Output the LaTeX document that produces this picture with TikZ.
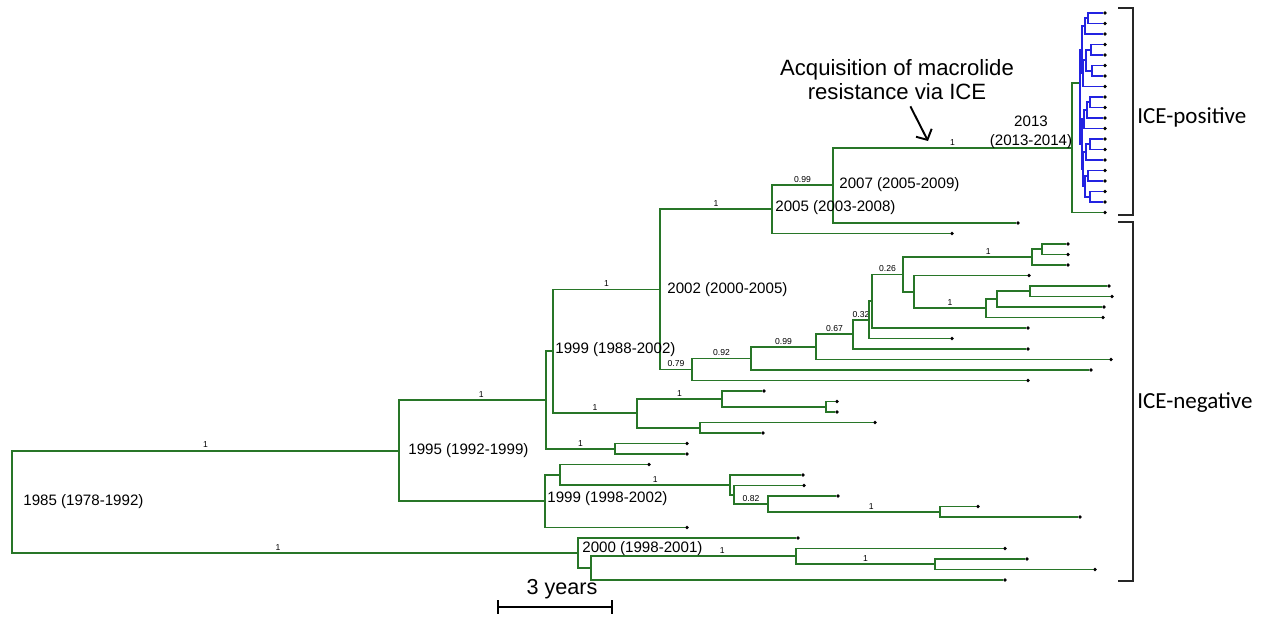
\documentclass[tikz,border=0pt]{standalone}
\usepackage{fontspec}
\setmainfont{Liberation Sans}
\newfontfamily\calibri{Carlito}
\usetikzlibrary{arrows.meta}

\definecolor{treegreen}{RGB}{40,118,40}
\definecolor{iceblue}{RGB}{35,35,225}

\begin{document}
\begin{tikzpicture}[x=0.02cm,y=-0.02cm,
    treebranch/.style={draw=treegreen,line width=1.1pt},
    iceedge/.style={draw=iceblue,line width=1pt},
    supportval/.style={above,pos=0.75,inner sep=1pt,font=\fontsize{4.9}{5}\selectfont},
    yearlabel/.style={anchor=west,inner sep=0pt,font=\fontsize{8.6}{10}\selectfont},
    cladebracket/.style={draw=black!85,line width=1pt},
    cladename/.style={anchor=west,inner sep=0pt,font=\calibri\fontsize{13.1}{15}\selectfont}]

  \useasboundingbox (0,0) rectangle (1265,622);

  \begin{scope}[every node/.style={circle,fill=black,inner sep=0pt,minimum size=2.2pt}]
    \node (p1) at (1105,13) {};
    \node (p2) at (1105,23.5) {};
    \node (p3) at (1105,34) {};
    \node (p4) at (1105,44.5) {};
    \node (p5) at (1105,55) {};
    \node (p6) at (1105,65.5) {};
    \node (p7) at (1105,76) {};
    \node (p8) at (1105,86.5) {};
    \node (p9) at (1105,97) {};
    \node (p10) at (1105,107.5) {};
    \node (p11) at (1105,118) {};
    \node (p12) at (1105,128.5) {};
    \node (p13) at (1105,139) {};
    \node (p14) at (1105,149.5) {};
    \node (p15) at (1105,160) {};
    \node (p16) at (1105,170.5) {};
    \node (p17) at (1105,181) {};
    \node (p18) at (1105,191.5) {};
    \node (p19) at (1105,202) {};

    \node (g1) at (1105,212.5) {};
    \node (g2) at (1018,223) {};
    \node (g3) at (952,233.5) {};
    \node (g4) at (1068,244) {};
    \node (g5) at (1068,254.5) {};
    \node (g6) at (1068,265) {};
    \node (g7) at (1029,275.5) {};
    \node (g8) at (1109,286) {};
    \node (g9) at (1112,296.5) {};
    \node (g10) at (1104,307) {};
    \node (g11) at (1103,317.5) {};
    \node (g12) at (1028,328) {};
    \node (g13) at (952,338.5) {};
    \node (g14) at (1028,349) {};
    \node (g15) at (1111,359.5) {};
    \node (g16) at (1091,370) {};
    \node (g17) at (1028,380.5) {};
    \node (g18) at (764,391) {};
    \node (g19) at (837,401.5) {};
    \node (g20) at (837,412) {};
    \node (g21) at (875,422.5) {};
    \node (g22) at (763,433) {};
    \node (g23) at (687,443.5) {};
    \node (g24) at (687,454) {};
    \node (g25) at (649,464.5) {};
    \node (g26) at (803,475) {};
    \node (g27) at (804,485.5) {};
    \node (g28) at (838,496) {};
    \node (g29) at (978,506.5) {};
    \node (g30) at (1080,517) {};
    \node (g31) at (687,527.5) {};
    \node (g32) at (798,538) {};
    \node (g33) at (1005,548.5) {};
    \node (g34) at (1027,559) {};
    \node (g35) at (1095,569.5) {};
    \node (g36) at (1005,580) {};
  \end{scope}

  \coordinate (n1985) at (12,501.85);
  \coordinate (n1995) at (399,450.6);
  \coordinate (a1) at (546,400.1);
  \coordinate (a2) at (615,448.75);
  \coordinate (n1999a) at (553,351.4);
  \coordinate (n2002) at (660,289.5);
  \coordinate (n2005) at (772,209.4);
  \coordinate (n2007) at (833,185.4);
  \coordinate (n2013) at (1072,147.75);
  \coordinate (d1) at (692,369.5);
  \coordinate (d2) at (751,358.5);
  \coordinate (d3) at (816,347);
  \coordinate (d4) at (853,334.4);
  \coordinate (d5) at (869,319.9);
  \coordinate (d6) at (872,301.25);
  \coordinate (d7) at (903,274.5);
  \coordinate (d8) at (1032,257.1);
  \coordinate (d9) at (1042,249.25);
  \coordinate (d10) at (914,291.9);
  \coordinate (d11) at (986,308.3);
  \coordinate (d12) at (997,299.1);
  \coordinate (d13) at (1030,291.25);
  \coordinate (c1) at (637,413.3);
  \coordinate (c2) at (722,398.9);
  \coordinate (c3) at (826,406.75);
  \coordinate (c4) at (700,427.75);
  \coordinate (n1999b) at (545,501.1);
  \coordinate (e1) at (560,474.7);
  \coordinate (e2) at (730,484.85);
  \coordinate (e3) at (734,494.7);
  \coordinate (e4) at (768,503.9);
  \coordinate (e5) at (940,511.75);
  \coordinate (n2000) at (578,553.1);
  \coordinate (f1) at (591,568.2);
  \coordinate (f2) at (796,556.4);
  \coordinate (f3) at (935,564.25);

  \coordinate (q0) at (1080,83);
  \coordinate (q1) at (1088,18.25);
  \coordinate (q2) at (1085,26.1);
  \coordinate (q3) at (1091,49.75);
  \coordinate (q4) at (1092,70.75);
  \coordinate (q5) at (1086,60.25);
  \coordinate (q6) at (1083,73.4);
  \coordinate (q7) at (1082,49.75);
  \coordinate (q8) at (1090,102.25);
  \coordinate (q9) at (1087,110.1);
  \coordinate (q10) at (1084,119.3);
  \coordinate (q11) at (1090,144.25);
  \coordinate (q12) at (1086,152.1);
  \coordinate (q13) at (1088,175.75);
  \coordinate (q14) at (1090,196.75);
  \coordinate (q15) at (1085,186.25);
  \coordinate (q16) at (1083,169.2);
  \coordinate (q17) at (1082,144.25);

  \draw[treebranch] (n1985) |- node[supportval] {1} (n1995) (n1985) |- node[supportval,pos=0.735] {1} (n2000);
  \draw[treebranch] (n1995) |- node[supportval,pos=0.78] {1} (a1) (n1995) |- (n1999b);
  \draw[treebranch] (a1) |- (n1999a) (a1) |- node[supportval] {1} (a2);
  \draw[treebranch] (a2) |- (g23) (a2) |- (g24);
  \draw[treebranch] (n1999a) |- node[supportval] {1} (n2002) (n1999a) |- node[supportval] {1} (c1);
  \draw[treebranch] (n2002) |- node[supportval] {1} (n2005) (n2002) |- node[supportval] {0.79} (d1);
  \draw[treebranch] (n2005) |- node[supportval] {0.99} (n2007) (n2005) |- (g3);
  \draw[treebranch] (n2007) |- node[supportval] {1} (n2013) (n2007) |- (g2);
  \draw[treebranch] (n2013) |- (q0) (n2013) |- (g1);
  \draw[treebranch] (d1) |- node[supportval] {0.92} (d2) (d1) |- (g17);
  \draw[treebranch] (d2) |- node[supportval] {0.99} (d3) (d2) |- (g16);
  \draw[treebranch] (d3) |- node[supportval] {0.67} (d4) (d3) |- (g15);
  \draw[treebranch] (d4) |- node[supportval] {0.32} (d5) (d4) |- (g14);
  \draw[treebranch] (d5) |- (d6) (d5) |- (g13);
  \draw[treebranch] (d6) |- node[supportval] {0.26} (d7) (d6) |- (g12);
  \draw[treebranch] (d7) |- node[supportval,pos=0.83] {1} (d8) (d7) |- (d10);
  \draw[treebranch] (d8) |- (d9) (d8) |- (g6);
  \draw[treebranch] (d9) |- (g4) (d9) |- (g5);
  \draw[treebranch] (d10) |- (g7) (d10) |- node[supportval] {1} (d11);
  \draw[treebranch] (d11) |- (d12) (d11) |- (g11);
  \draw[treebranch] (d12) |- (d13) (d12) |- (g10);
  \draw[treebranch] (d13) |- (g8) (d13) |- (g9);
  \draw[treebranch] (c1) |- node[supportval] {1} (c2) (c1) |- (c4);
  \draw[treebranch] (c2) |- (g18) (c2) |- (c3);
  \draw[treebranch] (c3) |- (g19) (c3) |- (g20);
  \draw[treebranch] (c4) |- (g21) (c4) |- (g22);
  \draw[treebranch] (n1999b) |- (e1) (n1999b) |- (g31);
  \draw[treebranch] (e1) |- (g25) (e1) |- node[supportval,pos=0.78] {1} (e2);
  \draw[treebranch] (e2) |- (g26) (e2) |- (e3);
  \draw[treebranch] (e3) |- (g27) (e3) |- node[supportval] {0.82} (e4);
  \draw[treebranch] (e4) |- (g28) (e4) |- node[supportval,pos=0.8] {1} (e5);
  \draw[treebranch] (e5) |- (g29) (e5) |- (g30);
  \draw[treebranch] (n2000) |- (g32) (n2000) |- (f1);
  \draw[treebranch] (f1) |- node[supportval,pos=0.82] {1} (f2) (f1) |- (g36);
  \draw[treebranch] (f2) |- (g33) (f2) |- node[supportval] {1} (f3);
  \draw[treebranch] (f3) |- (g34) (f3) |- (g35);

  \draw[iceedge] (q0) |- (q7) (q0) |- (q17);
  \draw[iceedge] (q7) |- (q2) (q7) |- (q6);
  \draw[iceedge] (q2) |- (q1) (q2) |- (p3);
  \draw[iceedge] (q1) |- (p1) (q1) |- (p2);
  \draw[iceedge] (q6) |- (q5) (q6) |- (p8);
  \draw[iceedge] (q5) |- (q3) (q5) |- (q4);
  \draw[iceedge] (q3) |- (p4) (q3) |- (p5);
  \draw[iceedge] (q4) |- (p6) (q4) |- (p7);
  \draw[iceedge] (q17) |- (q10) (q17) |- (q16);
  \draw[iceedge] (q10) |- (q9) (q10) |- (p12);
  \draw[iceedge] (q9) |- (q8) (q9) |- (p11);
  \draw[iceedge] (q8) |- (p9) (q8) |- (p10);
  \draw[iceedge] (q16) |- (q12) (q16) |- (q15);
  \draw[iceedge] (q12) |- (q11) (q12) |- (p15);
  \draw[iceedge] (q11) |- (p13) (q11) |- (p14);
  \draw[iceedge] (q15) |- (q13) (q15) |- (q14);
  \draw[iceedge] (q13) |- (p16) (q13) |- (p17);
  \draw[iceedge] (q14) |- (p18) (q14) |- (p19);

  \node[yearlabel] (t1985) at (23,502) {1985 (1978-1992)};
  \node[yearlabel] (t1995) at (408,451) {1995 (1992-1999)};
  \node[yearlabel] (t1999a) at (555,350) {1999 (1988-2002)};
  \node[yearlabel] (t2002) at (667,290) {2002 (2000-2005)};
  \node[yearlabel] (t2005) at (775,208) {2005 (2003-2008)};
  \node[yearlabel] (t2007) at (839,185) {2007 (2005-2009)};
  \node[yearlabel] (t1999b) at (547,499) {1999 (1998-2002)};
  \node[yearlabel] (t2000) at (582,549) {2000 (1998-2001)};
  \node[yearlabel,anchor=center,align=center,font=\fontsize{8.6}{10.8}\selectfont] (t2013) at (1031,132.5) {2013\\(2013-2014)};

  \node[align=center,font=\fontsize{12.6}{13.7}\selectfont] (acqnote) at (897,80) {Acquisition of macrolide\\resistance via ICE};
  \coordinate (acqtip) at (928,141);
  \draw[line width=1.1pt,-{Straight Barb[length=4.5pt,width=10pt]}] (acqnote) -- (acqtip);

  \draw[cladebracket] (1118,8) -| (1133,215) -- (1118,215);
  \draw[cladebracket] (1118,222) -| (1133,581) -- (1118,581);
  \node[cladename] (icepos) at (1137,117) {ICE-positive};
  \node[cladename] (iceneg) at (1137,403) {ICE-negative};

  \coordinate (sb1) at (497,607);
  \coordinate (sb2) at (613,607);
  \draw[line width=1.1pt,{Bar[width=7.5pt]}-{Bar[width=7.5pt]}] (sb1) -- node[above,inner sep=4pt,pos=0.56,font=\fontsize{12.3}{14}\selectfont] {3 years} (sb2);

\end{tikzpicture}
\end{document}
